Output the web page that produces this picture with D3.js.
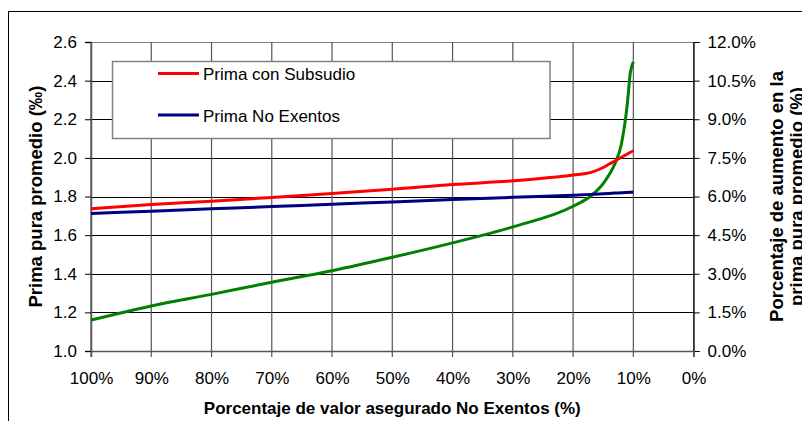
<!DOCTYPE html>
<html>
<head>
<meta charset="utf-8">
<script src="https://cdn.jsdelivr.net/npm/d3@7"></script>
<style>
  html, body { margin: 0; padding: 0; background: #fff; }
  svg { display: block; font-family: "Liberation Sans", Arial, sans-serif; }
</style>
</head>
<body>
<svg id="chart" width="802" height="421"></svg>
<script>
// ---- data ----
const pctX = [100, 90, 80, 70, 60, 50, 40, 30, 20, 17, 15, 14, 13, 12, 11, 10.5, 10];
const primaSubsidio = [1.736, 1.758, 1.776, 1.795, 1.816, 1.837, 1.862, 1.881, 1.911, 1.925, 1.950, 1.968, 1.985, 2.003, 2.020, 2.029, 2.037];
const primaNoExentos = [1.712, 1.724, 1.736, 1.748, 1.760, 1.772, 1.784, 1.796, 1.807, 1.811, 1.814, 1.816, 1.818, 1.819, 1.821, 1.822, 1.823];
const pctAumento = [1.20, 1.75, 2.20, 2.67, 3.12, 3.64, 4.20, 4.82, 5.62, 6.03, 6.50, 6.85, 7.30, 8.02, 9.60, 10.80, 11.23];
const xTicks = [100, 90, 80, 70, 60, 50, 40, 30, 20, 10, 0];
const yLeftTicks = [1.0, 1.2, 1.4, 1.6, 1.8, 2.0, 2.2, 2.4, 2.6];
const yRightTicks = [0, 1.5, 3, 4.5, 6, 7.5, 9, 10.5, 12];
const legendLabels = ["Prima con Subsudio", "Prima No Exentos"];

const svg = d3.select("#chart");
const L = 91, R = 693.6, T = 42, B = 351;

const x = d3.scaleLinear().domain([100, 0]).range([L, R]);
const yL = d3.scaleLinear().domain([1.0, 2.6]).range([B, T]);
const yR = d3.scaleLinear().domain([0, 12]).range([B, T]);

// outer frame
svg.append("rect").attr("x", 8.5).attr("y", 11.5).attr("width", 900).attr("height", 500)
  .attr("fill", "none").attr("stroke", "#000").attr("stroke-width", 1);

// horizontal gridlines
svg.append("g").selectAll("line").data(yLeftTicks.slice(1)).join("line")
  .attr("x1", L).attr("x2", R)
  .attr("y1", d => Math.round(yL(d)) + 0.5).attr("y2", d => Math.round(yL(d)) + 0.5)
  .attr("stroke", d => d === 2.6 ? "#808080" : "#000").attr("stroke-width", 1);

// vertical gridlines (extend below axis as ticks)
svg.append("g").selectAll("line").data(xTicks).join("line")
  .attr("x1", d => x(d)).attr("x2", d => x(d))
  .attr("y1", T).attr("y2", B + 6)
  .attr("stroke", "#555").attr("stroke-width", 1.2);

// axes
const fontSize = 17;
const gL = svg.append("g").attr("transform", `translate(${L},0)`)
  .call(d3.axisLeft(yL).tickValues(yLeftTicks).tickFormat(d3.format(".1f")).tickSize(6).tickPadding(8));
const gR = svg.append("g").attr("transform", `translate(${R},0)`)
  .call(d3.axisRight(yR).tickValues(yRightTicks).tickFormat(d => d.toFixed(1) + "%").tickSize(6).tickPadding(8));
const gB = svg.append("g").attr("transform", `translate(0,${B})`)
  .call(d3.axisBottom(x).tickValues(xTicks).tickFormat(d => d + "%").tickSize(6).tickPadding(15));

[gL, gR, gB].forEach(g => {
  g.selectAll("text").attr("font-size", fontSize).attr("fill", "#000")
    .attr("font-family", "'Liberation Sans', Arial, sans-serif");
  g.selectAll("line").attr("stroke", "#000");
});
gL.select(".domain").attr("stroke", "#555").attr("stroke-width", 1.5);
gB.select(".domain").attr("stroke", "#555").attr("stroke-width", 1.5);
gR.select(".domain").attr("stroke", "#000").attr("stroke-width", 1);
gB.selectAll(".tick line").remove();

// lines
const lineL = d3.line().x((d, i) => x(pctX[i])).y(d => yL(d)).curve(d3.curveMonotoneX);
const lineR = d3.line().x((d, i) => x(pctX[i])).y(d => yR(d)).curve(d3.curveMonotoneX);

svg.append("path").datum(pctAumento).attr("d", lineR)
  .attr("fill", "none").attr("stroke", "#008000").attr("stroke-width", 3);
svg.append("path").datum(primaNoExentos).attr("d", lineL)
  .attr("fill", "none").attr("stroke", "#000080").attr("stroke-width", 3);
svg.append("path").datum(primaSubsidio).attr("d", lineL)
  .attr("fill", "none").attr("stroke", "#FF0000").attr("stroke-width", 3);

// legend
const leg = svg.append("g");
leg.append("rect").attr("x", 112.5).attr("y", 61.5).attr("width", 437.5).attr("height", 77)
  .attr("fill", "#fff").attr("stroke", "#808080").attr("stroke-width", 1.5);
const legColors = ["#FF0000", "#000080"];
const legY = [73.5, 115];
legendLabels.forEach((lab, i) => {
  leg.append("line").attr("x1", 158).attr("x2", 199).attr("y1", legY[i]).attr("y2", legY[i])
    .attr("stroke", legColors[i]).attr("stroke-width", 3);
  leg.append("text").attr("x", 203).attr("y", legY[i] + 6.5).attr("font-size", 17)
    .attr("fill", "#000").text(lab);
});

// axis titles
svg.append("text").attr("x", (L + R) / 2).attr("y", 414).attr("text-anchor", "middle")
  .attr("font-size", 17).attr("font-weight", "bold").text("Porcentaje de valor asegurado No Exentos (%)");

svg.append("text").attr("transform", `translate(41.5,${(T + B) / 2}) rotate(-90)`)
  .attr("text-anchor", "middle").attr("font-size", 18.5).attr("font-weight", "bold")
  .text("Prima pura promedio (‰)");

const rt = svg.append("text").attr("transform", `translate(783,${(T + B) / 2}) rotate(-90)`)
  .attr("text-anchor", "middle").attr("font-size", 18.5).attr("font-weight", "bold");
rt.append("tspan").attr("x", 0).attr("y", 0).text("Porcentaje de aumento en la");
rt.append("tspan").attr("x", 0).attr("y", 20).text("prima pura promedio (%)");
</script>
</body>
</html>
